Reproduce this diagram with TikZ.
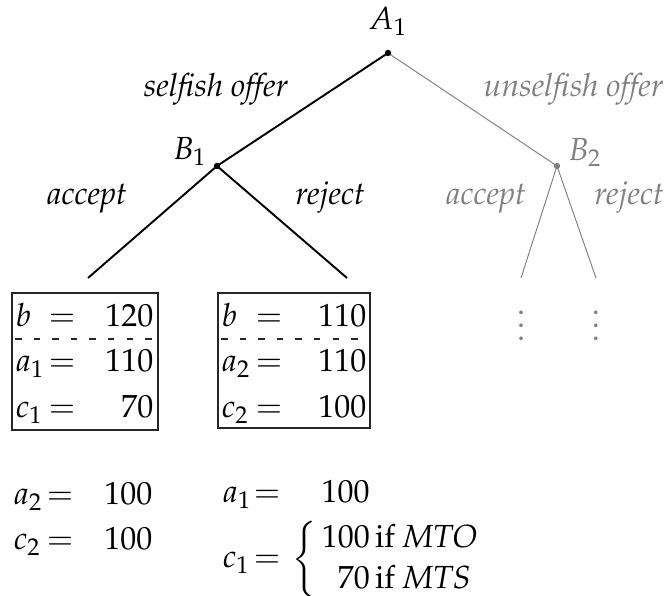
\documentclass[tikz,border=0pt]{standalone}
\usepackage[T1]{fontenc}
\usepackage{mathpazo}
\begin{document}
\begin{tikzpicture}[x=0.3125pt,y=-0.3125pt,
  lbl/.style={inner sep=0pt, font=\itshape, anchor=base},
  glbl/.style={lbl, text=black!50},
  mathtxt/.style={inner sep=0pt, anchor=base},
  lefttxt/.style={inner sep=0pt, anchor=base west},
  righttxt/.style={inner sep=0pt, anchor=base east},
  mainedge/.style={line width=0.6pt},
  faintedge/.style={black!50, line width=0.3pt},
  boxline/.style={line width=0.35pt, black!85},
  sepline/.style={line width=0.35pt, black!85, dash pattern=on 2pt off 3.8pt, dash phase=-1pt}
]
\useasboundingbox (0,0) rectangle (666,596);
% tree points
\coordinate (A1) at (388,53);
\coordinate (B1) at (217,166);
\coordinate (B2) at (557,166);
\coordinate (L1) at (88,278);
\coordinate (L2) at (347,278);
\coordinate (L3) at (521,278);
\coordinate (L4) at (596,278);
\draw[faintedge] (A1) -- (B2);
\draw[faintedge] (B2) -- (L3);
\draw[faintedge] (B2) -- (L4);
\draw[mainedge] (A1) -- (B1);
\draw[mainedge] (B1) -- (L1);
\draw[mainedge] (B1) -- (L2);
\fill (A1) circle (1pt);
\fill (B1) circle (1pt);
\fill[black!50] (B2) circle (1pt);
% labels
\node[mathtxt] (tA1) at (388,30) {$A_1$};
\node[lbl] (tself) at (216,97) {selfish offer};
\node[glbl, anchor=base east] (tunself) at (664,97) {unselfish offer};
\node[mathtxt] (tB1) at (190,160) {$B_1$};
\node[mathtxt, text=black!50] (tB2) at (585,161) {$B_2$};
\node[lbl] (tacc) at (87,205) {accept};
\node[lbl] (trej) at (330,205) {reject};
\node[glbl] (tgacc) at (486,205) {accept};
\node[glbl] (tgrej) at (629,205) {reject};
\node[inner sep=0pt, text=black!50] (vd1) at (521,316) {$\vdots$};
\node[inner sep=0pt, text=black!50] (vd2) at (596,316) {$\vdots$};
% box 1
\draw[boxline] (12,293) rectangle (158,430);
\draw[sepline] (12,339) -- (158,339);
\node[lefttxt] (b1v) at (15,327) {$b$};
\node[mathtxt] (b1e) at (62,327) {$=$};
\node[righttxt] (b1n) at (154,327) {$120$};
\node[lefttxt] (b1av) at (15,372) {$a_1$};
\node[mathtxt] (b1ae) at (62,372) {$=$};
\node[righttxt] (b1an) at (154,372) {$110$};
\node[lefttxt] (b1cv) at (15,418) {$c_1$};
\node[mathtxt] (b1ce) at (62,418) {$=$};
\node[righttxt] (b1cn) at (154,418) {$70$};
% box 2
\draw[boxline] (218,293) rectangle (370,428);
\draw[sepline] (218,339) -- (370,339);
\node[lefttxt] (b2v) at (221,327) {$b$};
\node[mathtxt] (b2e) at (269,327) {$=$};
\node[righttxt] (b2n) at (367,327) {$110$};
\node[lefttxt] (b2av) at (221,372) {$a_2$};
\node[mathtxt] (b2ae) at (269,372) {$=$};
\node[righttxt] (b2an) at (367,372) {$110$};
\node[lefttxt] (b2cv) at (221,418) {$c_2$};
\node[mathtxt] (b2ce) at (269,418) {$=$};
\node[righttxt] (b2cn) at (367,418) {$100$};
% bottom left
\node[lefttxt] (pa2v) at (13,505) {$a_2$};
\node[mathtxt] (pa2e) at (60,505) {$=$};
\node[righttxt] (pa2n) at (153,505) {$100$};
\node[lefttxt] (pc2v) at (13,550) {$c_2$};
\node[mathtxt] (pc2e) at (60,550) {$=$};
\node[righttxt] (pc2n) at (153,550) {$100$};
% bottom right
\node[lefttxt] (pa1v) at (222,503) {$a_1$};
\node[mathtxt] (pa1e) at (267,503) {$=$};
\node[lefttxt] (pa1n) at (321,503) {$100$};
\node[lefttxt] (pc1v) at (222,568) {$c_1$};
\node[mathtxt] (pc1e) at (267,568) {$=$};
\node[lefttxt] (pc1n) at (291,568) {$\left\{\renewcommand{\arraystretch}{1.05}\begin{array}{@{\,}r@{\ }l@{}}100\,\mathrm{if} & \mathit{MTO}\\ 70\,\mathrm{if} & \mathit{MTS}\end{array}\right.$};
\end{tikzpicture}
\end{document}
